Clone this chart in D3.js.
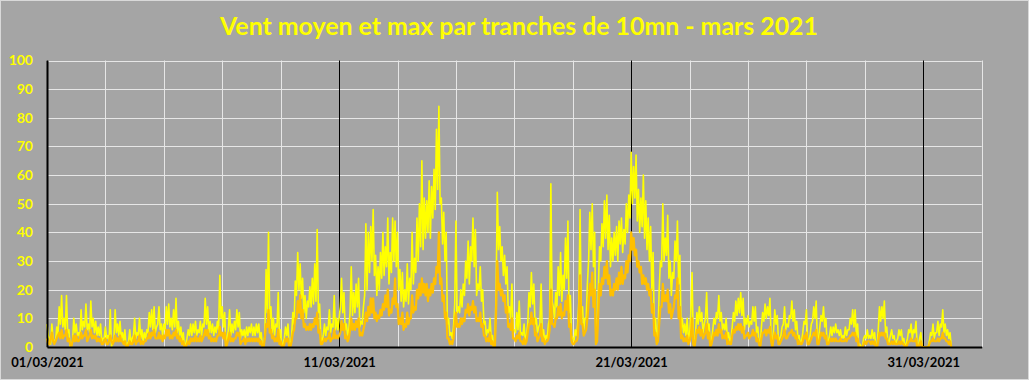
<!DOCTYPE html>
<html><head><meta charset="utf-8">
<script src="https://cdn.jsdelivr.net/npm/d3@7"></script>
<style>html,body{margin:0;padding:0;background:#a5a5a5;} svg{display:block}</style>
</head><body><svg id="c" width="1029" height="380"></svg>
<script>
const title = "Vent moyen et max par tranches de 10mn - mars 2021";
const startDate = Date.UTC(2021, 2, 1);
const stepHours = 1;
// wind max (gusts), one value per hour, one line per day, 1 -> 31 March
const maxWind = [
8,4,3,1,8,3,2,2,7,4,14,8,18,7,10,6,18,5,6,0,1,2,10,5,
8,4,5,3,13,6,9,7,15,6,8,5,16,7,10,5,9,4,7,4,8,2,3,3,
7,3,4,2,13,0,2,3,13,5,8,4,9,3,5,2,6,0,1,2,6,1,3,4,
10,3,5,4,10,3,6,2,5,3,6,5,12,7,13,6,14,5,7,8,14,6,8,4,
8,6,14,8,15,7,10,6,13,7,17,5,9,4,7,2,5,0,1,3,6,4,8,4,
8,5,9,4,6,5,9,4,8,7,17,8,14,5,9,5,8,4,7,5,9,6,25,10,
14,7,12,0,3,6,13,4,8,5,9,6,13,7,12,3,6,4,6,3,7,4,7,5,
8,4,7,4,8,5,8,3,5,0,1,4,27,12,40,10,14,5,10,4,8,7,19,3,
6,0,1,3,7,4,8,0,1,4,12,8,23,18,33,20,29,17,24,12,18,10,16,14,
21,14,24,15,29,16,41,12,15,3,2,4,8,4,7,6,13,5,8,7,18,6,10,6,
10,14,24,12,19,6,8,4,6,12,28,11,19,12,22,14,24,7,9,8,14,18,43,20,
40,26,42,30,48,25,32,18,28,20,33,24,40,25,35,28,45,22,33,26,45,30,44,28,
40,20,27,16,26,14,20,16,29,15,24,20,40,22,31,26,45,30,50,35,65,34,52,38,
51,40,58,38,56,45,62,48,76,55,84,50,52,36,47,30,40,8,10,4,5,3,7,15,
44,12,14,12,20,14,22,18,30,24,37,22,35,30,45,28,41,18,22,20,28,16,20,8,
9,4,6,5,10,3,4,0,1,20,54,34,42,30,35,25,32,22,28,12,14,10,22,6,
6,5,12,6,16,4,5,4,8,2,4,8,19,14,26,15,22,8,10,5,7,8,22,4,
6,2,4,3,8,10,57,16,14,10,19,14,28,18,33,16,25,20,38,24,44,12,18,4,
3,2,6,4,8,16,48,12,14,6,10,10,22,30,47,34,50,28,40,2,4,20,35,30,
43,35,51,38,53,34,46,28,38,30,40,32,42,30,44,36,45,33,41,36,50,40,53,45,
68,50,63,52,67,44,55,40,52,42,60,38,51,34,45,30,42,20,33,6,10,3,4,20,
30,28,50,30,38,32,46,24,30,18,26,24,37,30,44,22,32,6,10,5,8,4,10,3,
4,12,26,3,1,6,12,8,14,9,12,5,8,10,19,6,8,1,2,6,10,8,12,10,
18,9,12,6,8,6,10,3,5,2,3,7,12,9,16,11,17,12,19,11,17,6,10,8,
11,7,9,8,14,9,14,5,7,2,0,7,12,9,15,10,14,11,17,3,1,6,13,8,
11,2,3,4,7,8,14,6,8,7,11,10,16,9,13,6,9,3,4,1,2,5,9,8,
13,2,2,4,8,9,14,10,16,2,3,7,11,9,14,7,10,1,2,4,7,4,7,5,
8,5,6,4,6,3,4,3,7,4,6,6,10,8,13,7,13,4,8,0,1,0,0,3,
4,3,6,3,4,3,6,3,5,0,0,6,14,9,14,10,16,5,7,1,2,4,6,3,
4,1,2,3,6,4,6,2,3,0,1,3,6,5,8,3,6,5,9,0,0,3,5,0,
0,0,0,0,0,2,5,4,8,3,5,5,9,4,8,7,13,5,8,4,6,3,5,0
];
// mean wind, same timestamps
const meanWind = [
3,1,1,3,5,2,1,2,3,4,5,3,6,3,4,4,6,2,3,1,0,2,4,2,
4,2,2,3,5,3,4,4,6,2,3,4,6,3,4,3,4,2,3,2,3,1,1,2,
3,1,1,2,4,2,1,2,4,2,3,2,4,2,2,1,2,0,0,1,2,1,1,2,
4,1,2,2,4,1,2,1,2,2,3,3,5,3,5,4,6,3,3,3,5,3,4,2,
4,3,6,4,6,3,4,3,5,4,6,3,4,2,3,1,2,0,0,1,2,1,3,2,
3,2,4,2,3,2,4,2,3,4,6,4,6,3,4,2,3,2,3,2,4,4,7,4,
5,3,5,0,1,3,5,2,3,2,3,3,5,4,5,1,2,2,3,1,3,2,3,2,
3,2,3,2,3,2,3,1,2,0,0,3,8,7,13,5,6,3,4,2,3,2,6,1,
2,0,0,1,3,2,3,0,0,2,5,6,10,10,16,12,18,10,13,7,8,6,7,6,
8,6,8,7,10,8,12,5,6,1,1,2,3,2,3,3,5,2,3,3,6,3,4,3,
4,5,9,6,8,3,4,2,3,6,10,6,8,6,9,7,10,4,5,4,6,8,12,9,
14,11,17,12,17,10,12,9,11,10,13,11,15,13,18,14,20,11,13,12,17,15,24,14,
15,8,10,8,12,6,8,7,12,8,10,10,18,12,14,13,20,17,22,18,24,19,22,18,
22,16,20,18,22,19,24,22,28,26,40,22,24,16,18,10,12,3,3,1,2,1,3,8,
12,7,8,7,10,8,10,9,13,12,15,11,14,13,16,12,14,9,10,9,12,7,8,4,
4,2,3,2,5,1,2,0,0,12,30,20,22,18,20,16,18,12,14,7,8,6,10,3,
3,2,4,3,5,2,2,1,3,1,2,5,8,8,12,8,10,4,5,2,3,4,8,2,
3,1,2,2,3,6,20,8,8,7,10,10,14,11,15,10,12,11,16,13,18,7,8,2,
1,1,2,2,3,10,25,8,8,4,5,6,10,15,22,18,26,14,20,1,2,12,22,18,
24,22,28,24,30,22,25,18,20,18,22,20,24,20,26,22,28,22,25,24,30,26,32,30,
40,34,38,32,34,28,30,26,28,22,25,22,24,20,22,18,20,12,15,4,5,1,2,8,
14,14,22,16,18,16,20,12,15,10,12,14,18,17,24,10,14,3,4,2,3,2,4,1,
2,4,10,1,0,3,6,5,7,4,6,3,4,5,8,3,5,0,1,3,5,4,6,4,
8,5,6,3,4,3,5,1,2,1,1,4,6,5,7,6,8,6,8,5,7,3,4,4,
5,3,4,4,6,4,5,2,3,1,0,3,5,5,6,4,6,5,7,2,0,3,5,3,
4,1,1,2,3,4,6,3,3,4,5,5,6,4,5,3,4,1,2,1,1,2,4,3,
5,1,1,2,3,4,5,4,6,1,1,3,5,4,5,3,4,1,1,2,3,2,3,2,
3,2,2,2,3,2,2,2,3,2,3,3,4,4,5,4,5,2,3,0,0,0,0,1,
2,1,2,2,2,1,2,1,2,0,0,2,5,4,5,4,5,3,3,1,1,1,2,1,
2,1,1,1,2,1,2,1,1,0,0,1,2,2,3,2,2,2,3,0,0,1,2,0,
0,0,0,0,0,1,2,2,3,2,2,2,3,2,3,3,5,3,3,2,2,1,2,0
];
const yTicks = [0,10,20,30,40,50,60,70,80,90,100];
const xDomain = ["2021-03-01","2021-04-02"];
const xLabelDates = ["2021-03-01","2021-03-11","2021-03-21","2021-03-31"];
const xLabels = ["01/03/2021","11/03/2021","21/03/2021","31/03/2021"];

const W = 1029, H = 380;
const L = 47, R = 981.7, T = 60.5, B = 347;
const svg = d3.select("#c");
const toDate = s => new Date(s + "T00:00:00Z");

svg.append("rect").attr("x",0.5).attr("y",0.5).attr("width",W-1).attr("height",H-1)
  .attr("fill","#a5a5a5").attr("stroke","#d9d9d9");

const x = d3.scaleUtc().domain(xDomain.map(toDate)).range([L, R]);
const y = d3.scaleLinear().domain([0,100]).range([B, T]);

// horizontal grid
svg.append("g").selectAll("line").data(yTicks.filter(d => d > 0)).join("line")
  .attr("x1", L).attr("x2", R)
  .attr("y1", d => Math.round(y(d)) + 0.5).attr("y2", d => Math.round(y(d)) + 0.5)
  .attr("stroke", "#e6e6e6").attr("stroke-width", 1);

// vertical grid every 2 days, black every 10 days
const gridDays = d3.utcDay.range(toDate(xDomain[0]), d3.utcDay.offset(toDate(xDomain[1]),1), 2);
svg.append("g").selectAll("line").data(gridDays).join("line")
  .attr("x1", d => Math.round(x(d)) + 0.5).attr("x2", d => Math.round(x(d)) + 0.5)
  .attr("y1", T).attr("y2", B)
  .attr("stroke", (d,i) => i % 5 === 0 ? "#000" : "#e6e6e6")
  .attr("stroke-width", (d,i) => i === 0 ? 1.6 : 1);

const line = d3.line()
  .x((d,i) => x(new Date(startDate + i * stepHours * 3600e3)))
  .y(d => y(d));

svg.append("path").datum(maxWind).attr("d", line)
  .attr("fill","none").attr("stroke","#ffff00").attr("stroke-width",1.6).attr("stroke-linejoin","round");
svg.append("path").datum(meanWind).attr("d", line)
  .attr("fill","none").attr("stroke","#ffc000").attr("stroke-width",2.2).attr("stroke-linejoin","round");

// axes
const xAxis = d3.axisBottom(x).tickValues(xLabelDates.map(toDate))
  .tickFormat((d,i) => xLabels[i]).tickSize(0).tickPadding(11);
const gx = svg.append("g").attr("transform", `translate(0,${B})`).call(xAxis);
gx.select(".domain").attr("stroke","#000").attr("stroke-width",2.2);
gx.selectAll("text").attr("font-family","Lato, 'DejaVu Sans', sans-serif")
  .attr("font-weight","bold").attr("font-size","13px").attr("fill","#000");

const yAxis = d3.axisLeft(y).tickValues(yTicks).tickSize(0).tickPadding(14);
const gy = svg.append("g").attr("transform", `translate(${L},0)`).call(yAxis);
gy.select(".domain").attr("stroke","#000").attr("stroke-width",1.6);
gy.selectAll("text").attr("font-family","Lato, 'DejaVu Sans', sans-serif")
  .attr("font-weight","bold").attr("font-size","14px").attr("fill","#ffff00");

// title
const t = svg.append("text").text(title)
  .attr("x", 519).attr("y", 34.5).attr("text-anchor","middle")
  .attr("font-family","Lato, 'DejaVu Sans', sans-serif").attr("font-weight","bold")
  .attr("font-size","24px").attr("fill","#ffff00");
const w = t.node().getComputedTextLength();
t.attr("font-size", (24 * 598 / w).toFixed(2) + "px");
</script>
</body></html>
